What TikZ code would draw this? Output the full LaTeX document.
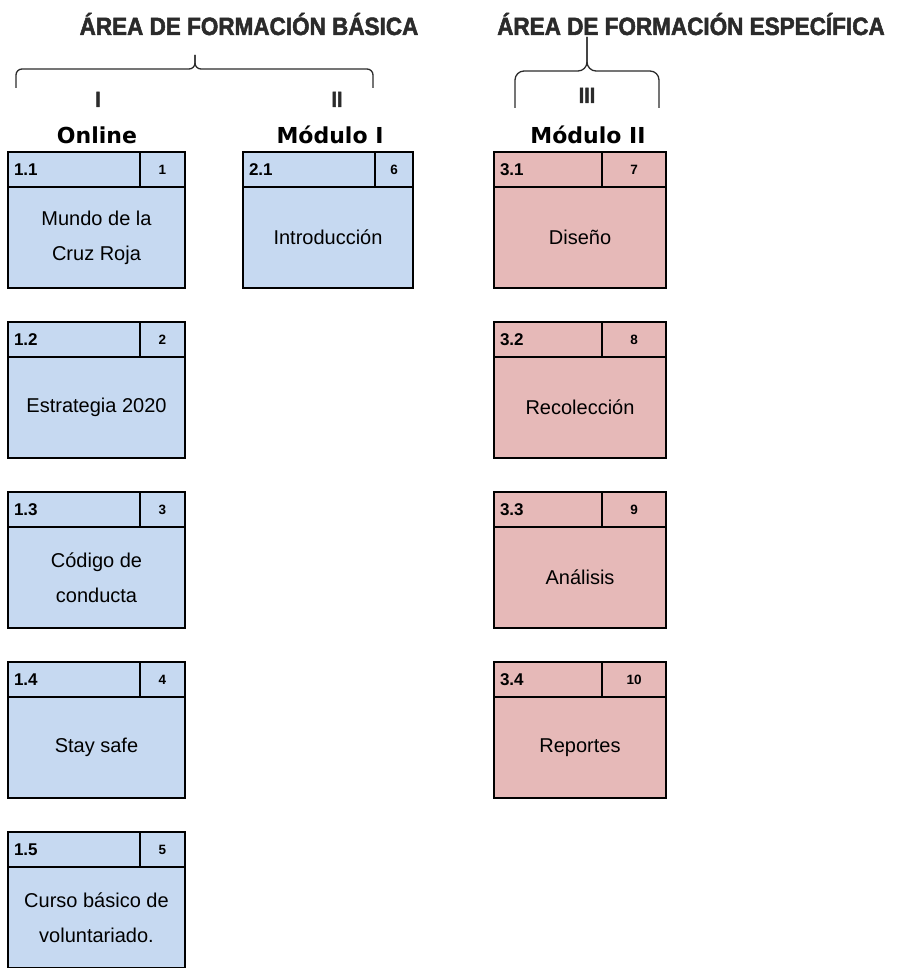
\documentclass[tikz,border=0pt]{standalone}
\usepackage{fontspec}
\setmainfont{Liberation Sans}
\newfontfamily\narrowfont{Liberation Sans}[FakeStretch=0.9, BoldFeatures={FakeBold=2}]
\newfontfamily\pixfont{DejaVu Sans}
\usetikzlibrary{positioning}
\definecolor{bluebox}{HTML}{C6D9F1}
\definecolor{pinkbox}{HTML}{E6B9B8}
\definecolor{inkgray}{HTML}{2B2B2B}

\begin{document}
\begin{tikzpicture}[
  x=1pt, y=-1pt,
  cell/.style={draw, line width=1.3pt, inner sep=0pt, outer sep=0pt, minimum height=35pt},
  code/.style={cell, anchor=north west, inner xsep=6pt, text width=#1, align=left,
    font=\fontsize{17}{17}\selectfont\bfseries},
  num/.style={cell, minimum width=#1, font=\fontsize{13.5}{13.5}\selectfont\bfseries},
  body/.style={draw, line width=1.3pt, inner sep=0pt, outer sep=0pt, minimum width=#1,
    minimum height=101pt, align=center, font=\fontsize{20}{35}\selectfont},
  title/.style={anchor=base, text=inkgray, font=\narrowfont\fontsize{25}{25}\selectfont\bfseries},
  roman/.style={title, font=\narrowfont\fontsize{22}{22}\selectfont\bfseries},
  colname/.style={anchor=base, font=\pixfont\fontsize{22}{22}\selectfont\bfseries},
  brace/.style={draw=inkgray, line width=1.3pt}
]
\useasboundingbox (0,0) rectangle (898,968);

% headings
\node[title] (t1) at (249,35) {ÁREA DE FORMACIÓN BÁSICA};
\node[title] (t2) at (691,35) {ÁREA DE FORMACIÓN ESPECÍFICA};
\draw[brace, rounded corners=6pt] (16,88) -- (16,69) -- (195,69) -- (195,55);
\draw[brace, rounded corners=6pt] (373,88) -- (373,69) -- (195,69) -- (195,55);
\draw[brace, rounded corners=9pt] (515,108) -- (515,71) -- (587,71) -- (587,37);
\draw[brace, rounded corners=9pt] (659,108) -- (659,71) -- (587,71) -- (587,37);
\node[roman] (r1) at (98,107) {I};
\node[roman] (r2) at (337,107) {II};
\node[roman] (r3) at (587,103) {III};
\node[colname] (k1) at (97,144) {Online};
\node[colname] (k2) at (330,144) {Módulo I};
\node[colname] (k3) at (588,144) {Módulo II};

% column I
\node[code=120pt, fill=bluebox] (c11) at (8,152) {1.1};
\node[num=45pt, fill=bluebox, right=0pt of c11] (n11) {1};
\node[body=177pt, fill=bluebox, below=0pt of c11.south west, anchor=north west] (b11) {Mundo de la\\Cruz Roja};
\node[code=120pt, fill=bluebox, below=34pt of b11.south west, anchor=north west] (c12) {1.2};
\node[num=45pt, fill=bluebox, right=0pt of c12] (n12) {2};
\node[body=177pt, fill=bluebox, below=0pt of c12.south west, anchor=north west] (b12) {Estrategia 2020};
\node[code=120pt, fill=bluebox, below=34pt of b12.south west, anchor=north west] (c13) {1.3};
\node[num=45pt, fill=bluebox, right=0pt of c13] (n13) {3};
\node[body=177pt, fill=bluebox, below=0pt of c13.south west, anchor=north west] (b13) {Código de\\conducta};
\node[code=120pt, fill=bluebox, below=34pt of b13.south west, anchor=north west] (c14) {1.4};
\node[num=45pt, fill=bluebox, right=0pt of c14] (n14) {4};
\node[body=177pt, fill=bluebox, below=0pt of c14.south west, anchor=north west] (b14) {Stay safe};
\node[code=120pt, fill=bluebox, below=34pt of b14.south west, anchor=north west] (c15) {1.5};
\node[num=45pt, fill=bluebox, right=0pt of c15] (n15) {5};
\node[body=177pt, fill=bluebox, below=0pt of c15.south west, anchor=north west] (b15) {Curso básico de\\voluntariado.};

% column II
\node[code=120pt, fill=bluebox] (c21) at (243,152) {2.1};
\node[num=38pt, fill=bluebox, right=0pt of c21] (n21) {6};
\node[body=170pt, fill=bluebox, below=0pt of c21.south west, anchor=north west] (b21) {Introducción};

% column III
\node[code=96pt, fill=pinkbox] (c31) at (494,152) {3.1};
\node[num=64pt, fill=pinkbox, right=0pt of c31] (n31) {7};
\node[body=172pt, fill=pinkbox, below=0pt of c31.south west, anchor=north west] (b31) {Diseño};
\node[code=96pt, fill=pinkbox, below=34pt of b31.south west, anchor=north west] (c32) {3.2};
\node[num=64pt, fill=pinkbox, right=0pt of c32] (n32) {8};
\node[body=172pt, fill=pinkbox, below=0pt of c32.south west, anchor=north west] (b32) {Recolección};
\node[code=96pt, fill=pinkbox, below=34pt of b32.south west, anchor=north west] (c33) {3.3};
\node[num=64pt, fill=pinkbox, right=0pt of c33] (n33) {9};
\node[body=172pt, fill=pinkbox, below=0pt of c33.south west, anchor=north west] (b33) {Análisis};
\node[code=96pt, fill=pinkbox, below=34pt of b33.south west, anchor=north west] (c34) {3.4};
\node[num=64pt, fill=pinkbox, right=0pt of c34] (n34) {10};
\node[body=172pt, fill=pinkbox, below=0pt of c34.south west, anchor=north west] (b34) {Reportes};
\end{tikzpicture}
\end{document}
